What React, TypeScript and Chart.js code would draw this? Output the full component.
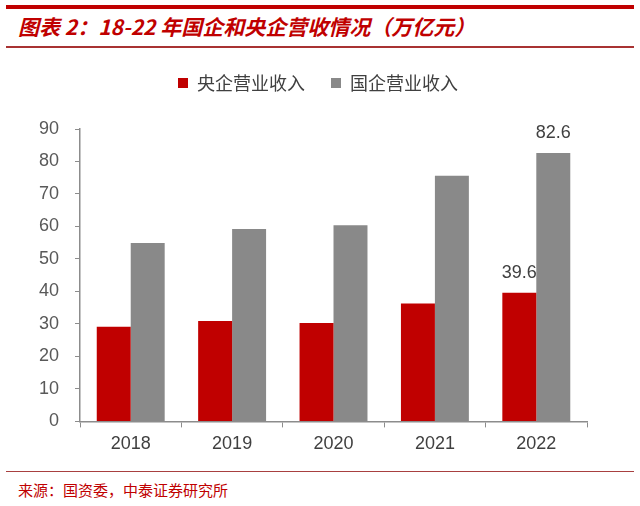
import React, { useEffect, useRef } from "react";
import { Chart, registerables } from "chart.js";

Chart.register(...registerables);

const categories = ["2018", "2019", "2020", "2021", "2022"];
const centralSOE = [29.1, 30.9, 30.3, 36.3, 39.6];
const allSOE = [54.9, 59.2, 60.4, 75.6, 82.6];
const seriesNames = ["央企营业收入", "国企营业收入"];
const yTicks = [0, 10, 20, 30, 40, 50, 60, 70, 80, 90];
const labeledIndex = 4;

const TITLE = "图表 2：18-22 年国企和央企营收情况（万亿元）";
const SOURCE = "来源：国资委，中泰证券研究所";

const RED = "#C00000";
const GREY = "#898989";

const labelPlugin = {
  id: "lastLabels",
  afterDatasetsDraw(chart: any) {
    const ctx = chart.ctx;
    ctx.save();
    ctx.font = "18px 'Liberation Sans', Arial, sans-serif";
    ctx.fillStyle = "#404040";
    ctx.textAlign = "center";
    ctx.textBaseline = "bottom";
    chart.data.datasets.forEach((ds: any, di: number) => {
      const meta = chart.getDatasetMeta(di);
      const el = meta.data[labeledIndex];
      if (!el) return;
      ctx.fillText(String(ds.data[labeledIndex]), el.x, el.y - 11);
    });
    ctx.restore();
  },
};

const legendTweak = {
  id: "legendTweak",
  beforeLayout(chart: any) {
    const lg = chart.legend;
    if (lg && !lg._patched) {
      const orig = lg.fit;
      lg.fit = function () {
        orig.call(this);
        this.height += 27;
      };
      lg._patched = true;
    }
  },
  afterLayout(chart: any) {
    const lg = chart.legend;
    if (lg) {
      lg.left += 13;
      lg.right += 13;
    }
  },
};

export default function App() {
  const ref = useRef<HTMLCanvasElement>(null);
  useEffect(() => {
    const chart = new Chart(ref.current!, {
      type: "bar",
      data: {
        labels: categories,
        datasets: [
          { label: seriesNames[0], data: centralSOE, backgroundColor: RED },
          { label: seriesNames[1], data: allSOE, backgroundColor: GREY },
        ],
      },
      options: {
        animation: false,
        responsive: false,
        maintainAspectRatio: false,
        layout: { padding: { left: 23, right: 53, top: 8, bottom: 8 } },
        datasets: { bar: { barPercentage: 1, categoryPercentage: 0.67 } } as any,
        plugins: {
          legend: {
            display: true,
            position: "top",
            labels: {
              boxWidth: 10,
              boxHeight: 10,
              padding: 26,
              color: "#404040",
              font: { size: 18, family: "'Noto Sans CJK SC', sans-serif" },
            },
          },
          tooltip: { enabled: false },
        },
        scales: {
          x: {
            grid: { display: true, drawOnChartArea: false, tickLength: 6, color: "#8c8c8c", offset: true },
            border: { color: "#8c8c8c", width: 1.5 },
            ticks: { color: "#404040", font: { size: 18, family: "'Liberation Sans', Arial, sans-serif" }, padding: 6 },
          },
          y: {
            min: 0,
            max: 90,
            afterBuildTicks: (s: any) => { s.ticks = yTicks.map((v) => ({ value: v })); },
            grid: { display: true, drawOnChartArea: false, tickLength: 5, color: "#8c8c8c" },
            border: { color: "#8c8c8c", width: 1.5 },
            ticks: { color: "#595959", font: { size: 18, family: "'Liberation Sans', Arial, sans-serif" }, padding: 16 },
          },
        },
      },
      plugins: [labelPlugin, legendTweak],
    });
    return () => chart.destroy();
  }, []);

  return (
    <div style={{ position: "fixed", left: 0, top: 0, width: 640, height: 506, background: "#fff", overflow: "hidden" }}>
      <div style={{ position: "absolute", left: 6, top: 5, width: 628, height: 4, background: RED }} />
      <div
        style={{
          position: "absolute", left: 18, top: 12, whiteSpace: "nowrap",
          font: "italic bold 21px 'Noto Sans CJK SC', sans-serif", color: RED, lineHeight: "28px",
        }}
      >
        {TITLE}
      </div>
      <div style={{ position: "absolute", left: 6, top: 46, width: 628, height: 2, background: "#A83232" }} />
      <canvas ref={ref} width={640} height={429} style={{ position: "absolute", left: 0, top: 40, width: 640, height: 429 }} />
      <div style={{ position: "absolute", left: 6, top: 471, width: 628, height: 1, background: "#A84040" }} />
      <div
        style={{
          position: "absolute", left: 18, top: 479, whiteSpace: "nowrap",
          font: "15px 'Noto Sans CJK SC', sans-serif", color: RED, lineHeight: "22px",
        }}
      >
        {SOURCE}
      </div>
    </div>
  );
}
